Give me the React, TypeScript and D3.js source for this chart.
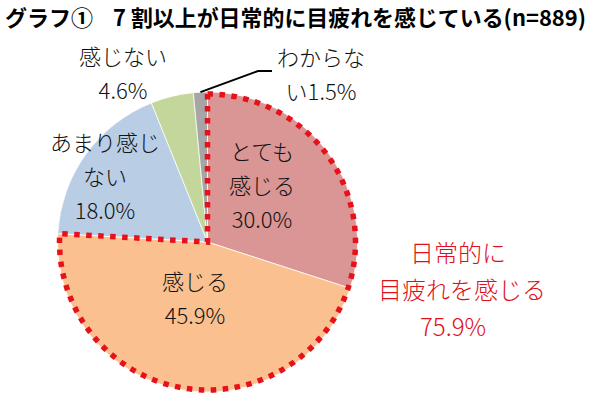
import React from 'react';
import * as d3 from 'd3';

// data
const categories = ['とても感じる', '感じる', 'あまり感じない', '感じない', 'わからない'];
const shares = [30.0, 45.9, 18.0, 4.6, 1.5];
const sliceColors = ['#d99694', '#fac090', '#b9cde5', '#c3d69b', '#a6a6a6'];
// how each category label is broken into lines
const labelLines = [
    ['とても', '感じる', '30.0%'],
    ['感じる', '45.9%'],
    ['あまり感じ', 'ない', '18.0%'],
    ['感じない', '4.6%'],
    ['わからな', 'い1.5%'],
];
const groupLines = ['日常的に', '目疲れを感じる', '75.9%'];
const groupCount = 2; // first two slices are outlined
const titleHead = 'グラフ①';
const titleBody = '7 割以上が日常的に目疲れを感じている(n=889)';

// layout
const W = 600;
const H = 403;
const cx = 207.5;
const cy = 242;
const R = 150;
const labelPos = [
    { x: 262, y: 152 },
    { x: 195, y: 282 },
    { x: 105, y: 143 },
    { x: 123, y: 57 },
    { x: 321, y: 58 },
];
const groupX = [458, 462, 453];
const lineH = 34;
const font = '"Noto Sans CJK JP", "Noto Sans", sans-serif';

const App: React.FC = () => {
    const pie = d3.pie<number>().sort(null).value(d => d).startAngle(0).endAngle(2 * Math.PI);
    const arcs = pie(shares);
    const arc = d3.arc<d3.PieArcDatum<number>>().innerRadius(0).outerRadius(R);

    const groupEnd = arcs[groupCount - 1].endAngle;
    const outline = d3.arc()({ innerRadius: 0, outerRadius: R - 2, startAngle: 0, endAngle: groupEnd }) ?? '';

    // leader line for the tiny last slice
    const last = arcs[arcs.length - 1];
    const mid = (last.startAngle + last.endAngle) / 2;
    const p0: [number, number] = [cx + R * Math.sin(mid), cy - R * Math.cos(mid)];
    const leader = d3.line()([p0, [258, 71], [272, 71]]) ?? '';

    return (
        <svg width={W} height={H} style={{ position: 'absolute', left: 0, top: 0, background: '#fff' }}>
            <rect width={W} height={H} fill="#fff" />
            <text x={5} y={26} fontFamily={font} fontWeight="bold" fontSize={22} fill="#000">{titleHead}</text>
            <text x={113} y={26} fontFamily={font} fontWeight="bold" fontSize={22} fill="#000"
                textLength={473} lengthAdjust="spacingAndGlyphs">{titleBody}</text>

            <g transform={`translate(${cx},${cy})`}>
                {arcs.map((a, i) => (
                    <path key={categories[i]} d={arc(a) ?? ''} fill={sliceColors[i]} stroke="#fff" strokeWidth={0.75} />
                ))}
                <path d={outline} fill="none" stroke="#e8101a" strokeWidth={5.5} strokeDasharray="5.5 6.5" />
            </g>
            <path d={leader} fill="none" stroke="#000" strokeWidth={2} />

            {labelLines.map((lines, i) => (
                <text key={categories[i]} fontFamily={font} fontWeight={300} fontSize={22} fill="#111" textAnchor="middle">
                    {lines.map((t, j) => (
                        <tspan key={j} x={labelPos[i].x} y={labelPos[i].y + j * lineH + 8}>{t}</tspan>
                    ))}
                </text>
            ))}

            <text fontFamily={font} fontWeight={300} fontSize={24} fill="#e0101a" textAnchor="middle">
                {groupLines.map((t, j) => (
                    <tspan key={j} x={groupX[j]} y={253 + j * 37 + 9}>{t}</tspan>
                ))}
            </text>
        </svg>
    );
};

export default App;
